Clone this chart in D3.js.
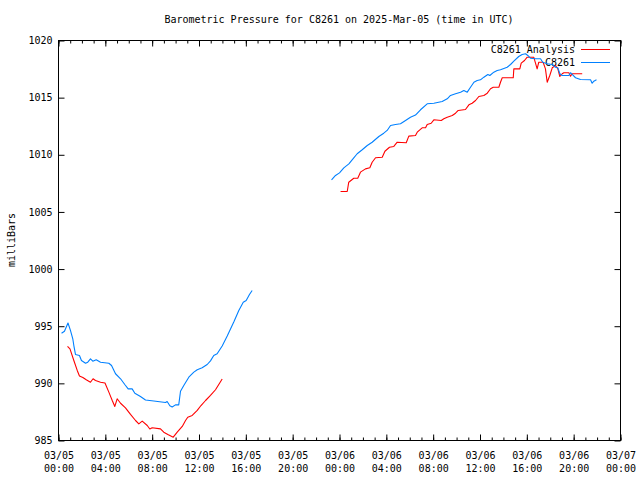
<!DOCTYPE html>
<html><head><meta charset="utf-8">
<script src="https://cdn.jsdelivr.net/npm/d3@7"></script>
<style>body{margin:0;background:#fff}</style>
</head><body><svg id="c" width="640" height="480"></svg>
<script>
const titleText = "Barometric Pressure for C8261 on 2025-Mar-05 (time in UTC)";
const yLabel = "milliBars";
const seriesNames = ["C8261 Analysis", "C8261"];
const seriesColors = ["#ff0000", "#0080ff"];
const yTickValues = [985, 990, 995, 1000, 1005, 1010, 1015, 1020];
const startTime = "2025-03-05T00:00:00Z";
const endTime = "2025-03-07T00:00:00Z";

// hours since 2025-03-05 00:00 UTC
const analysisHours = [0.77,0.98,1.31,1.60,1.79,2.08,2.37,2.73,2.95,3.16,3.59,3.97,4.30,4.59,4.81,5.01,5.30,5.72,6.15,6.58,6.86,7.15,7.58,7.80,8.00,8.71,8.99,9.34,9.80,10.14,10.57,10.85,11.04,11.42,11.85,12.17,12.56,12.98,13.41,13.98,
 24.09,24.66,24.79,25.22,25.56,25.79,26.22,26.59,26.79,27.08,27.65,27.88,28.27,28.64,28.93,29.70,29.92,30.49,30.64,31.06,31.35,31.49,31.83,32.06,32.69,32.91,33.20,33.63,33.91,34.14,34.76,35.05,35.33,35.62,35.90,36.33,36.62,36.90,37.13,37.61,37.75,37.90,38.46,38.84,38.89,39.40,39.52,39.80,40.03,40.59,40.74,40.88,41.02,41.39,41.59,41.74,41.96,42.17,42.45,42.65,42.82,43.02,43.16,43.59,43.73,43.88,44.73];
const analysisPressure = [993.23,993.02,992.00,991.13,990.64,990.51,990.31,990.10,990.40,990.25,990.10,990.03,989.23,988.50,987.98,988.65,988.26,987.86,987.28,986.75,986.46,986.69,986.31,986.01,986.11,986.02,985.73,985.53,985.29,985.73,986.23,986.75,987.04,987.19,987.63,988.06,988.50,988.94,989.44,990.38,
 1006.79,1006.79,1007.60,1007.95,1007.95,1008.48,1008.77,1008.86,1009.35,1009.74,1009.79,1010.31,1010.66,1010.73,1011.10,1011.05,1011.63,1011.69,1011.98,1012.36,1012.36,1012.65,1012.76,1013.06,1013.00,1013.15,1013.29,1013.44,1013.64,1013.88,1013.96,1014.37,1014.51,1014.75,1015.10,1015.19,1015.39,1015.78,1015.91,1015.91,1016.35,1016.74,1016.74,1016.74,1017.52,1017.52,1018.02,1018.25,1018.54,1018.54,1018.02,1017.52,1018.10,1018.10,1017.52,1016.35,1016.94,1017.61,1017.81,1017.52,1016.85,1017.09,1017.18,1017.18,1016.88,1017.09,1017.09];

const stationHours = [0.26,0.51,0.81,1.02,1.22,1.31,1.45,1.79,1.96,2.31,2.50,2.73,2.93,3.22,3.59,4.30,4.53,4.87,5.30,5.66,5.95,6.29,6.52,7.00,7.43,8.14,9.14,9.28,9.51,9.71,9.99,10.27,10.42,10.70,11.13,11.56,11.85,12.27,12.70,12.98,13.26,13.55,13.98,14.41,14.97,15.40,15.78,16.03,16.31,16.54,
 23.32,23.66,24.00,24.37,24.80,25.08,25.51,25.94,26.37,26.79,27.36,27.78,28.07,28.36,28.78,29.21,29.64,30.06,30.49,30.92,31.49,32.06,32.77,33.20,33.48,33.91,34.34,34.62,34.91,35.19,35.48,35.76,36.04,36.33,36.67,36.84,37.18,37.47,37.75,38.32,38.61,38.89,39.31,39.60,39.89,40.08,40.31,40.74,41.17,41.36,41.74,42.17,42.45,42.65,42.82,43.02,43.59,43.73,43.96,44.16,44.58,45.44,45.58,45.72,45.95];
const stationPressure = [994.39,994.56,995.28,994.63,993.90,993.31,992.53,992.44,992.00,991.76,991.85,992.15,991.94,992.06,991.85,991.76,991.56,990.84,990.40,989.90,989.52,989.52,989.14,988.85,988.54,988.46,988.33,988.41,988.04,987.93,988.12,988.12,989.31,989.81,990.54,990.98,991.19,991.36,991.65,991.97,992.44,992.59,993.27,994.14,995.37,996.38,997.10,997.25,997.78,998.13,
 1007.81,1008.19,1008.42,1008.86,1009.21,1009.56,1010.09,1010.44,1010.81,1011.10,1011.60,1011.89,1012.13,1012.56,1012.65,1012.71,1013.00,1013.29,1013.48,1013.94,1014.46,1014.51,1014.66,1014.90,1015.19,1015.34,1015.48,1015.63,1015.48,1015.91,1016.35,1016.50,1016.56,1016.79,1017.03,1016.94,1017.23,1017.38,1017.44,1017.66,1017.90,1018.19,1018.60,1018.78,1018.84,1018.69,1018.45,1018.40,1018.40,1018.10,1017.96,1017.90,1017.66,1017.61,1017.09,1016.94,1016.94,1017.18,1016.94,1016.74,1016.59,1016.56,1016.26,1016.44,1016.56];

const FONT = "'DejaVu Sans Mono', 'Liberation Mono', monospace";
const svg = d3.select("#c");
const L = 58.5, R = 620.5, T = 40.5, B = 440.5;
const t0 = new Date(startTime), t1 = new Date(endTime);
const x = d3.scaleUtc().domain([t0, t1]).range([L, R]);
const y = d3.scaleLinear().domain([985, 1020]).range([B, T]);
const toDate = h => new Date(t0.getTime() + h * 3600000);

function build(hours, press) {
  return hours.map((h, i) => ({ t: toDate(h), h: h, v: press[i], gap: i > 0 && h - hours[i - 1] > 3 }));
}
const series = [build(analysisHours, analysisPressure), build(stationHours, stationPressure)];

const majorTicks = d3.utcHour.every(4).range(t0, d3.utcHour.offset(t1, 1));
const minorTicks = d3.utcHour.every(1).range(t0, d3.utcHour.offset(t1, 1));

function styleAxis(g) {
  g.select(".domain").remove();
  g.selectAll("line").attr("stroke", "#000");
  g.selectAll("text").attr("font-family", FONT).attr("font-size", 10).attr("fill", "#000");
}

// minor ticks bottom & top
svg.append("g").attr("transform", `translate(0,${B})`)
  .call(d3.axisBottom(x).tickValues(minorTicks).tickSize(-3).tickFormat(""))
  .call(styleAxis);
svg.append("g").attr("transform", `translate(0,${T})`)
  .call(d3.axisTop(x).tickValues(minorTicks).tickSize(-3).tickFormat(""))
  .call(styleAxis);
// major ticks bottom with labels
const fmtD = d3.utcFormat("%m/%d"), fmtT = d3.utcFormat("%H:%M");
const xb = svg.append("g").attr("transform", `translate(0,${B})`)
  .call(d3.axisBottom(x).tickValues(majorTicks).tickSize(-6).tickFormat(fmtD))
  .call(styleAxis);
xb.selectAll("text").each(function(d) {
  const t = d3.select(this).text("").attr("y", 0).attr("dy", null);
  t.append("tspan").attr("x", 0).attr("y", 18.5).text(fmtD(d));
  t.append("tspan").attr("x", 0).attr("y", 31).text(fmtT(d));
});
svg.append("g").attr("transform", `translate(0,${T})`)
  .call(d3.axisTop(x).tickValues(majorTicks).tickSize(-6).tickFormat(""))
  .call(styleAxis);
// y axes
svg.append("g").attr("transform", `translate(${L},0)`)
  .call(d3.axisLeft(y).tickValues(yTickValues).tickSize(-6).tickPadding(6).tickFormat(d3.format("d")))
  .call(styleAxis);
svg.append("g").attr("transform", `translate(${R},0)`)
  .call(d3.axisRight(y).tickValues(yTickValues).tickSize(-6).tickFormat(""))
  .call(styleAxis);

// border
svg.append("rect").attr("x", L).attr("y", T).attr("width", R - L).attr("height", B - T)
  .attr("fill", "none").attr("stroke", "#000").attr("stroke-width", 1);

// title and y label
svg.append("text").attr("x", 339).attr("y", 23).attr("text-anchor", "middle")
  .attr("font-family", FONT).attr("font-size", 10).text(titleText);
svg.append("text").attr("transform", "translate(14.5,240) rotate(-90)").attr("text-anchor", "middle")
  .attr("font-family", FONT).attr("font-size", 10).text(yLabel);

// legend text
const legY = [49.5, 62.5];
seriesNames.forEach((n, i) => {
  svg.append("text").attr("x", 575).attr("y", legY[i]).attr("dy", "0.35em").attr("text-anchor", "end")
    .attr("font-family", FONT).attr("font-size", 10).text(n);
});

// lines
const line = d3.line().defined(d => d !== null).x(d => x(d.t)).y(d => y(d.v));
series.forEach((s, i) => {
  const pts = [];
  s.forEach(d => { if (d.gap) pts.push(null); pts.push(d); });
  svg.append("path").datum(pts).attr("d", line).attr("fill", "none")
    .attr("stroke", seriesColors[i]).attr("stroke-width", 1.1).attr("stroke-linejoin", "round");
  svg.append("line").attr("x1", 581).attr("x2", 610).attr("y1", legY[i]).attr("y2", legY[i])
    .attr("stroke", seriesColors[i]).attr("stroke-width", 1);
});
</script></body></html>
